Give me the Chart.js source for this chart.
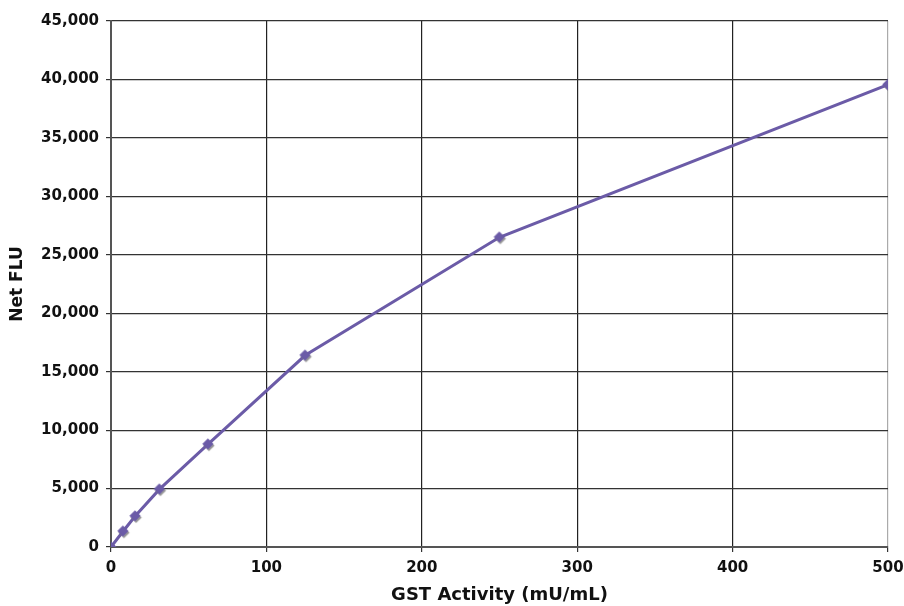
<!DOCTYPE html>
<html>
<head>
<meta charset="utf-8">
<script src="https://cdn.jsdelivr.net/npm/chart.js@4"></script>
<style>
html,body{margin:0;padding:0;background:#fff;}
#wrap{width:904px;height:606px;position:relative;}
</style>
</head>
<body>
<div id="wrap"><canvas id="c" width="904" height="606"></canvas></div>
<script>
const activity = [0, 7.8, 15.6, 31.25, 62.5, 125, 250, 500];
const netFLU = [0, 1350, 2650, 4950, 8800, 16400, 26500, 39550];
const xTicks = [0, 100, 200, 300, 400, 500];
const yTicks = [0, 5000, 10000, 15000, 20000, 25000, 30000, 35000, 40000, 45000];

function makeDiamond(){
  const c = document.createElement('canvas');
  c.width = 16; c.height = 16;
  const g = c.getContext('2d');
  function d(cx, cy, r, col){
    g.beginPath();
    g.moveTo(cx, cy - r); g.lineTo(cx + r, cy); g.lineTo(cx, cy + r); g.lineTo(cx - r, cy);
    g.closePath(); g.fillStyle = col; g.fill();
  }
  d(8.9, 9.4, 5.6, 'rgba(120,120,120,0.75)');
  d(7.8, 7.8, 5.6, '#6b5ba7');
  return c;
}
const diamond = makeDiamond();

const font = "'DejaVu Sans', sans-serif";
new Chart(document.getElementById('c'), {
  type: 'scatter',
  data: {
    datasets: [{
      data: activity.map((x, i) => ({x: x, y: netFLU[i]})),
      showLine: true,
      borderColor: '#6b5ba7',
      borderWidth: 3,
      pointStyle: diamond,
      pointRadius: 6,
      tension: 0
    }]
  },
  options: {
    responsive: false,
    animation: false,
    layout: {padding: {top: 21, right: 16, left: 0, bottom: 0}},
    plugins: {legend: {display: false}, tooltip: {enabled: false}},
    scales: {
      x: {
        type: 'linear', min: 0, max: 500,
        afterBuildTicks: s => { s.ticks = xTicks.map(v => ({value: v})); },
        afterFit: s => { s.height = 59; s.paddingRight = 0; s.paddingLeft = 0; },
        grid: {
          color: ctx => ctx.tick && ctx.tick.value === 500 ? '#aaaaaa' : '#222222',
          lineWidth: 1.2, tickLength: 5, tickColor: '#333333'
        },
        border: {color: '#555555', width: 2},
        ticks: {color: '#111111', font: {family: font, size: 15, weight: 'bold'}, padding: 7, maxRotation: 0},
        title: {display: true, text: 'GST Activity (mU/mL)', color: '#111111',
          font: {family: font, size: 18, weight: 'bold'}, padding: {top: 0, bottom: 0}}
      },
      y: {
        type: 'linear', min: 0, max: 45000,
        afterBuildTicks: s => { s.ticks = yTicks.map(v => ({value: v})); },
        afterFit: s => { s.width = 111; s.paddingTop = 0; s.paddingBottom = 0; },
        grid: {color: '#333333', lineWidth: 1.2, tickLength: 5, tickColor: '#333333'},
        border: {color: '#555555', width: 2},
        ticks: {color: '#111111', font: {family: font, size: 15, weight: 'bold'}, padding: 7,
          callback: v => v.toLocaleString('en-US')},
        title: {display: true, text: 'Net FLU', color: '#111111',
          font: {family: font, size: 17, weight: 'bold'}, padding: {top: 7, bottom: 0}}
      }
    }
  }
});
</script>
</body>
</html>
